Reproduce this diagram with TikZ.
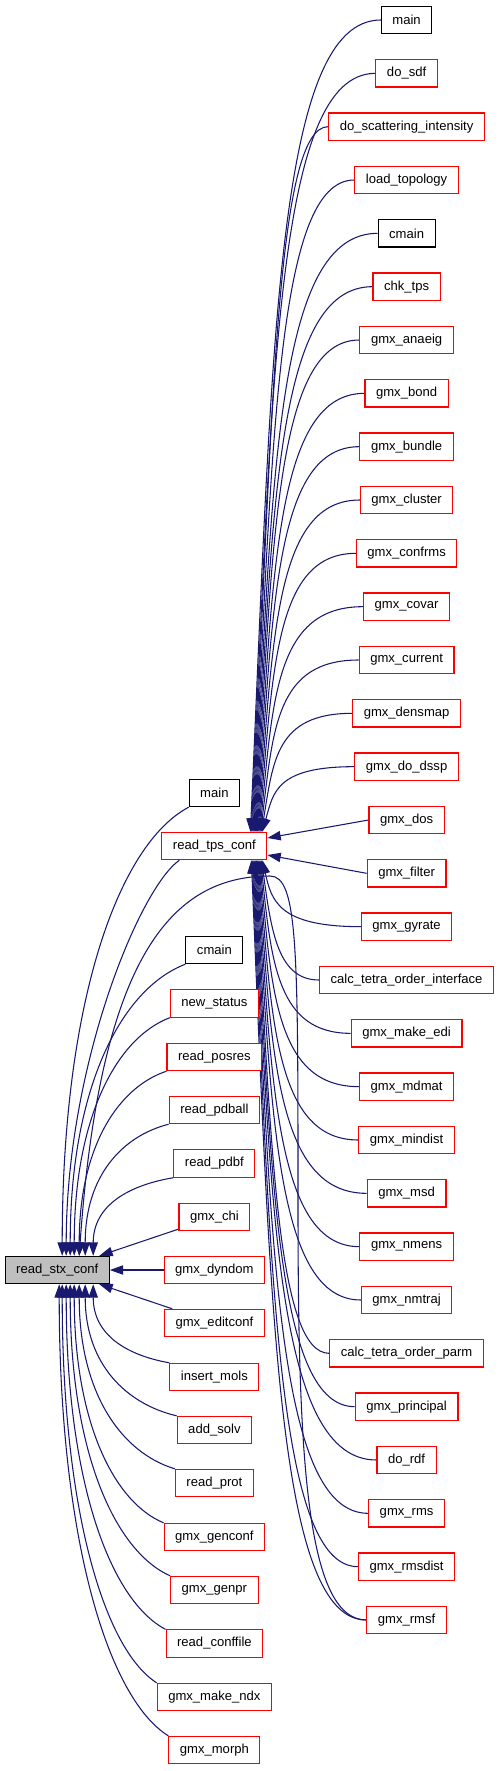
\documentclass[tikz,border=0pt]{standalone}
\usepackage{fontspec}
\setmainfont{Liberation Sans}
\usetikzlibrary{arrows.meta,backgrounds}
\definecolor{edgeblue}{HTML}{191970}
\definecolor{boxred}{HTML}{FF0000}
\begin{document}
\begin{tikzpicture}[x=0.75pt,y=-0.75pt,
  box/.style={draw=boxred, line width=0.8pt, rectangle, fill=white,
    minimum height=20.5pt, inner xsep=8.3pt, inner ysep=0pt,
    font=\fontsize{9.8}{11}\selectfont},
  edge/.style={draw=edgeblue, line width=0.8pt,
    -{Triangle[length=10pt,width=7pt,fill=edgeblue]}}]
\useasboundingbox (0,0) rectangle (499,1771);

% root
\node[box, draw=black, fill=gray!50] (stx) at (57.2,1270) {read\_stx\_conf};

% middle column
\foreach \n/\y/\lab/\cl in {m0/793/main/black, tps/846/read\_tps\_conf/boxred,
  m2/950/cmain/black, m3/1003.5/new\_status/boxred, m4/1057/read\_posres/boxred,
  m5/1110/read\_pdball/boxred, m6/1163.5/read\_pdbf/boxred, m7/1217/gmx\_chi/boxred,
  m8/1270/gmx\_dyndom/boxred, m9/1323/gmx\_editconf/boxred, m10/1377/insert\_mols/boxred,
  m11/1430/add\_solv/boxred, m12/1483/read\_prot/boxred, m13/1537/gmx\_genconf/boxred,
  m14/1590/gmx\_genpr/boxred, m15/1643.5/read\_conffile/boxred,
  m16/1697/gmx\_make\_ndx/boxred, m17/1750/gmx\_morph/boxred}
  {\node[box, draw=\cl] (\n) at (214.4,\y) {\lab};}

% right column
\foreach \i/\lab/\cl in {0/main/black,1/do\_sdf/boxred,2/do\_scattering\_intensity/boxred,
  3/load\_topology/boxred,4/cmain/black,5/chk\_tps/boxred,6/gmx\_anaeig/boxred,
  7/gmx\_bond/boxred,8/gmx\_bundle/boxred,9/gmx\_cluster/boxred,10/gmx\_confrms/boxred,
  11/gmx\_covar/boxred,12/gmx\_current/boxred,13/gmx\_densmap/boxred,14/gmx\_do\_dssp/boxred,
  15/gmx\_dos/boxred,16/gmx\_filter/boxred,17/gmx\_gyrate/boxred,
  18/calc\_tetra\_order\_interface/boxred,19/gmx\_make\_edi/boxred,20/gmx\_mdmat/boxred,
  21/gmx\_mindist/boxred,22/gmx\_msd/boxred,23/gmx\_nmens/boxred,24/gmx\_nmtraj/boxred,
  25/calc\_tetra\_order\_parm/boxred,26/gmx\_principal/boxred,27/do\_rdf/boxred,
  28/gmx\_rms/boxred,29/gmx\_rmsdist/boxred,30/gmx\_rmsf/boxred}
  {\node[box, draw=\cl] (r\i) at (406.6,{20+53.333*\i}) {\lab};}

\begin{pgfonlayer}{background}
% right column -> read_tps_conf (above)
\foreach \i in {0,...,14} {
  \pgfmathsetmacro\yy{20+53.333*\i}
  \pgfmathsetmacro\sx{36+0.85*\i}
  \pgfmathsetmacro\dd{0.6*(832-\yy)}
  \pgfmathsetmacro\ox{10+0.015*(832-\yy)}
  \draw[edge] (r\i.west) .. controls (276,\yy) and +(\ox,-\dd) .. ([shift={(\sx,0)}]tps.north);
}
\draw[edge] (r15.west) -- ([shift={(0,-8)}]tps.east);
\draw[edge] (r16.west) -- ([shift={(0,9)}]tps.east);
% right column -> read_tps_conf (below)
\foreach \i in {17,...,30} {
  \pgfmathsetmacro\yy{20+53.333*\i}
  \pgfmathsetmacro\sx{48-0.85*(\i-17)}
  \pgfmathsetmacro\dd{0.6*(\yy-860)}
  \pgfmathsetmacro\ox{8+0.015*(\yy-860)}
  \draw[edge] (r\i.west) .. controls (278,\yy) and +(\ox,\dd) .. ([shift={(\sx,0)}]tps.south);
}
% gmx_rmsf -> read_stx_conf
\draw[edge] (r30.west) .. controls (305,1619.7) and (298,1450) .. (298,1200)
  .. controls (298,950) and (298,876) .. (270,876)
  .. controls (170,876) and (100,960) .. ([shift={(22,0)}]stx.north);

% middle column -> read_stx_conf (above)
\foreach \n/\y/\dx/\sx in {m0/793/70/5, m2/950/64/13, m3/1003.5/53/17,
  m4/1057/48/22, m5/1110/46/28, m6/1163.5/44/36} {
  \pgfmathsetmacro\dd{0.55*(1256-\y)}
  \pgfmathsetmacro\hh{0.08*(1256-\y)}
  \draw[edge] (\n.south west) .. controls +(-\dx,\hh) and +(0,-\dd) .. ([shift={(\sx,0)}]stx.north);
}
\draw[edge] ([shift={(-35,0)}]tps.south) .. controls +(-40,28) and +(0,-190) .. ([shift={(9,0)}]stx.north);
\draw[edge] (m7) -- (stx);
\draw[edge] (m8) -- (stx);
\draw[edge] (m9) -- (stx);
% middle column -> read_stx_conf (below)
\foreach \n/\y/\dx/\sx in {m10/1377/42/36, m11/1430/50/28, m12/1483/53/22,
  m13/1537/49/17, m14/1590/55/13, m15/1643.5/55/9, m16/1697/52/5, m17/1750/60/2} {
  \pgfmathsetmacro\dd{0.55*(\y-1284)}
  \pgfmathsetmacro\hh{0.08*(\y-1284)}
  \draw[edge] (\n.north west) .. controls +(-\dx,-\hh) and +(0,\dd) .. ([shift={(\sx,0)}]stx.south);
}
\end{pgfonlayer}
\end{tikzpicture}
\end{document}
